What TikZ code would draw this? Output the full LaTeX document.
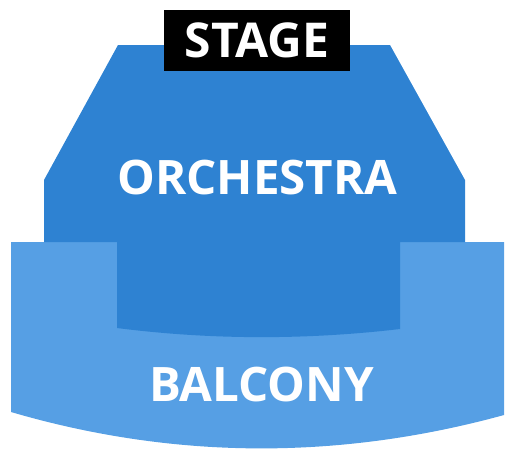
\documentclass[tikz,border=0pt]{standalone}
\usepackage{fontspec}
\setmainfont{Open Sans}
\usepackage{xcolor}
\definecolor{hallblue}{RGB}{46,130,210}
\definecolor{hallsky}{RGB}{86,159,228}
\usepackage{tikz}
\usetikzlibrary{positioning}

\tikzset{
  seatlabel/.style={text=white, font=\fontsize{47.5}{47.5}\selectfont\bfseries, inner sep=0pt},
  stagebox/.style={fill=black, text=white, font=\fontsize{48}{48}\selectfont\bfseries,
    minimum width=186pt, minimum height=61pt, inner sep=0pt}
}

\begin{document}
\begin{tikzpicture}[x=1pt, y=-1pt]
  \useasboundingbox (0,0) rectangle (516,461);

  % Balcony: wide band with a curved front edge
  \fill[hallsky] (11,242) -- (504,242) -- (504,415)
    .. controls (340,460) and (175,460) .. (11,412) -- cycle;

  % Orchestra: tapered toward the stage, lower part sits inside the balcony
  \fill[hallblue] (118,45) -- (390,45) -- (465,180) -- (465,242) -- (400,242) -- (400,329)
    .. controls (306,340) and (211,340) .. (117,328) -- (117,242) -- (44,242) -- (44,180) -- cycle;

  % Labels
  \node[stagebox] (stage) at (257,40.5) {STAGE};
  \node[seatlabel] (orchestra) at (257.5,178) {ORCHESTRA};
  \node[seatlabel] (balcony) at (261.5,384.5) {BALCONY};
\end{tikzpicture}
\end{document}
